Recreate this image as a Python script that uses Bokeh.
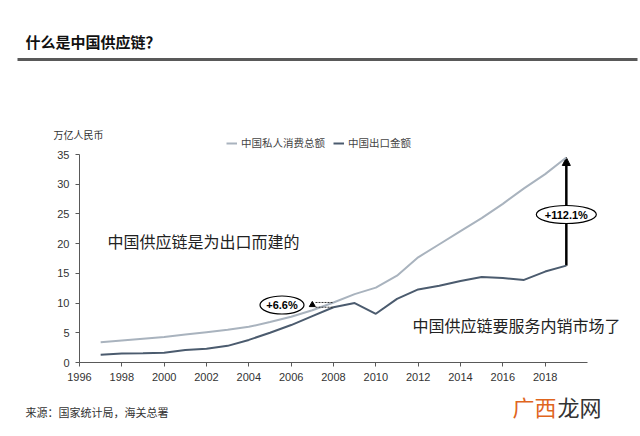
from bokeh.plotting import figure
from bokeh.models import Range1d, FixedTicker, Label, Arrow, NormalHead
from bokeh.embed import file_html
from bokeh.resources import INLINE

# ---- data ----
years = list(range(1997, 2020))
consumption = [3.4, 3.7, 4.0, 4.3, 4.7, 5.1, 5.5, 6.0, 6.8, 7.7, 8.8, 10.1,
               11.5, 12.6, 14.6, 17.7, 19.9, 22.1, 24.3, 26.7, 29.3, 31.7, 34.5]
exports = [1.3, 1.5, 1.55, 1.65, 2.1, 2.3, 2.8, 3.8, 5.0, 6.3, 7.8, 9.3,
           10.0, 8.2, 10.7, 12.3, 12.9, 13.7, 14.4, 14.2, 13.9, 15.3, 16.3]
series_names = ["中国私人消费总额", "中国出口金额"]
x_ticks = list(range(1996, 2020, 2))
y_ticks = [0, 5, 10, 15, 20, 25, 30, 35]
title_text = "什么是中国供应链？"
unit_text = "万亿人民币"
source_text = "来源：国家统计局，海关总署"
note_export = "中国供应链是为出口而建的"
note_domestic = "中国供应链要服务内销市场了"
gap_2008 = "+6.6%"
gap_2019 = "+112.1%"

# ---- layout: the plot area of the axes in canvas pixels ----
W, H = 640, 436
L, R, T, B = 79, 587, 154, 362
X0, X1, Y0, Y1 = 1996, 2020, 0, 35

def dx(px):
    return X0 + (px - L) / (R - L) * (X1 - X0)

def dy(py):
    return Y0 + (B - py) / (B - T) * (Y1 - Y0)

CJK = "Noto Sans CJK SC"
LAT = "Liberation Sans"

# the frame covers the whole canvas; axes are pinned at fixed data locations
p = figure(width=W, height=H, output_backend="svg", toolbar_location=None,
           x_range=Range1d(dx(0), dx(W)), y_range=Range1d(dy(H), dy(0)),
           min_border=0)
p.outline_line_color = None
p.background_fill_color = "white"
p.border_fill_color = "white"
p.xgrid.grid_line_color = None
p.ygrid.grid_line_color = None

for ax in (p.xaxis[0], p.yaxis[0]):
    ax.axis_line_color = "#595959"
    ax.axis_line_width = 1
    ax.major_tick_line_color = "#595959"
    ax.major_tick_out = 4
    ax.major_tick_in = 0
    ax.minor_tick_line_color = None
    ax.major_label_text_font = LAT
    ax.major_label_text_font_size = "11px"
    ax.major_label_text_color = "#333333"
p.xaxis[0].ticker = FixedTicker(ticks=x_ticks)
p.yaxis[0].ticker = FixedTicker(ticks=y_ticks)
p.xaxis[0].fixed_location = Y0
p.yaxis[0].fixed_location = X0
p.xaxis[0].bounds = (X0, X1)
p.yaxis[0].bounds = (Y0, Y1)
p.xaxis[0].major_label_standoff = 6
p.yaxis[0].major_label_standoff = 6

# arrow behind glyphs
arr = Arrow(end=NormalHead(size=8, fill_color="black", line_color="black"),
            x_start=years[-1], y_start=exports[-1],
            x_end=years[-1], y_end=consumption[-1],
            line_width=2.5, line_color="black", level="underlay")
p.add_layout(arr)

l1 = p.line(years, consumption, line_color="#a9b3be", line_width=2,
            legend_label=series_names[0])
l2 = p.line(years, exports, line_color="#4b5b6e", line_width=2,
            legend_label=series_names[1])

# 2008 gap marker (dotted box + triangle)
i08 = years.index(2008)
p.segment(x0=[2007.15, 2007.15], y0=[consumption[i08], exports[i08]],
          x1=[2008, 2008], y1=[consumption[i08], exports[i08]],
          line_color="#333333", line_width=1, line_dash="2 1")
p.scatter(x=[2007.0], y=[(consumption[i08] + exports[i08]) / 2], marker="triangle",
          size=6, fill_color="black", line_color="black")

# ellipses
p.ellipse(x=[dx(281.5)], y=[dy(304.5)], width=44, height=18,
          width_units="screen", height_units="screen",
          fill_color="white", line_color="black", line_width=1.2)
p.ellipse(x=[years[-1]], y=[dy(214)], width=60, height=18,
          width_units="screen", height_units="screen",
          fill_color="white", line_color="black", line_width=1.2)
p.add_layout(Label(x=dx(281.5), y=dy(304.5), text=gap_2008, text_font=LAT,
                   text_font_style="bold", text_font_size="11px",
                   text_align="center", text_baseline="middle", text_color="black"))
p.add_layout(Label(x=years[-1], y=dy(214), text=gap_2019, text_font=LAT,
                   text_font_style="bold", text_font_size="11px",
                   text_align="center", text_baseline="middle", text_color="black"))

# annotations
p.add_layout(Label(x=dx(107), y=dy(240), text=note_export, text_font=CJK,
                   text_font_size="16px", text_align="left", text_baseline="middle",
                   text_color="#222222"))
p.add_layout(Label(x=dx(412), y=dy(324), text=note_domestic, text_font=CJK,
                   text_font_size="16px", text_align="left", text_baseline="middle",
                   text_color="#222222"))

# legend
lg = p.legend[0]
lg.orientation = "horizontal"
lg.location = (226, H - 150)
lg.padding = 0
lg.margin = 0
lg.spacing = 8
lg.glyph_width = 11
lg.glyph_height = 12
lg.label_height = 12
lg.label_standoff = 4
lg.border_line_color = None
lg.background_fill_alpha = 0
lg.label_text_font = CJK
lg.label_text_font_size = "10.5px"
lg.label_text_color = "#444444"

# page texts
p.add_layout(Label(x=dx(25), y=dy(41), text=title_text, text_font=CJK,
                   text_font_style="bold", text_font_size="15px",
                   text_align="left", text_baseline="middle", text_color="#111111"))
p.add_layout(Arrow(end=None, x_start=dx(17), y_start=dy(59), x_end=dx(637), y_end=dy(59),
                   line_width=3, line_color="#595959"))
p.add_layout(Label(x=dx(53), y=dy(134), text=unit_text, text_font=CJK,
                   text_font_size="10px", text_align="left", text_baseline="middle",
                   text_color="#333333"))
p.add_layout(Label(x=dx(25), y=dy(411), text=source_text, text_font=CJK,
                   text_font_size="11px", text_align="left", text_baseline="middle",
                   text_color="#333333"))
p.add_layout(Label(x=dx(512), y=dy(405), text="广西", text_font=CJK,
                   text_font_size="22px", text_align="left", text_baseline="middle",
                   text_color="#e0651e"))
p.add_layout(Label(x=dx(557), y=dy(405), text="龙网", text_font=CJK,
                   text_font_size="22px", text_align="left", text_baseline="middle",
                   text_color="#333333"))

open("out.html", "w").write(file_html(p, INLINE))
